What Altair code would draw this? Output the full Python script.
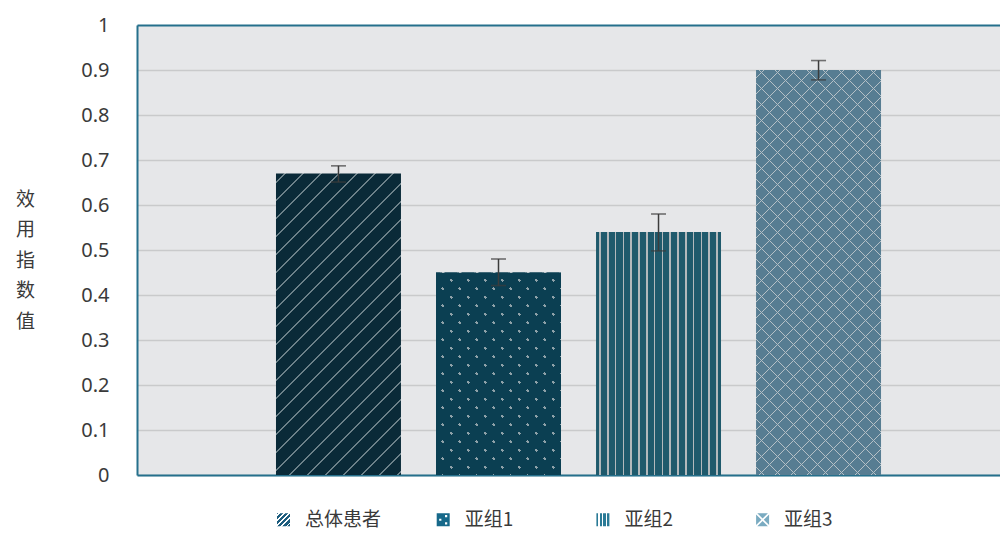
import json
import altair as alt
import pandas as pd

# ---------------- data ----------------
categories = ["总体患者", "亚组1", "亚组2", "亚组3"]
values = [0.67, 0.45, 0.54, 0.90]
err_low = [0.651, 0.421, 0.498, 0.878]
err_high = [0.687, 0.480, 0.580, 0.921]
y_ticks = [0, 0.1, 0.2, 0.3, 0.4, 0.5, 0.6, 0.7, 0.8, 0.9, 1]
y_title = ["效", "用", "指", "数", "值"]

df = pd.DataFrame({"cat": categories, "value": values, "lo": err_low, "hi": err_high})

# ---------------- layout / style ----------------
W, H = 863, 450
P_IN, P_OUT, ALIGN = 0.219, 0.806, 0.5388
step = W / (len(categories) - P_IN + 2 * P_OUT)
bar_w = step * (1 - P_IN)

TEAL = "#25708c"
GRID = "#c9cacb"
TXT = "#3a3a3a"
CJK = "Noto Sans CJK SC"


def stripes(w, h, direction, period, lw, base, line, phase=0.0):
    """Linear gradient with hard stops that draws a line texture."""
    if direction == "vert":
        total = w
        p1, p2 = (0, 0), (1, 0)
    else:
        k = (w + h) / (w * w + h * h)
        total = w + h
        if direction == "up":
            p1, p2 = (0, 0), (k * w, k * h)
        else:
            p1, p2 = (0, 1), (k * w, 1 - k * h)
    stops = [{"offset": 0, "color": base}]
    s = phase
    while s - lw / 2 < total:
        a = max(0.0, (s - lw / 2) / total)
        b = min(1.0, (s + lw / 2) / total)
        if b > 0:
            a, b = round(a, 5), round(b, 5)
            stops += [
                {"offset": a, "color": base},
                {"offset": a, "color": line},
                {"offset": b, "color": line},
                {"offset": b, "color": base},
            ]
        s += period
    stops.append({"offset": 1, "color": base})
    return {"gradient": "linear", "x1": p1[0], "y1": p1[1],
            "x2": p2[0], "y2": p2[1], "stops": stops}


hts = [v * H for v in values]
CLEAR = "rgba(0,0,0,0)"

# per-bar textures (each list = layers drawn bottom to top)
bar_fills = [
    [stripes(bar_w, hts[0], "up", 18, 1.5, "#0a2a38", "#6c8189", phase=9)],
    [stripes(bar_w, hts[1], "up", 17, 3.2, "#0b3f52", "#8ea1a8", phase=6),
     stripes(bar_w, hts[1], "down", 17, 3.2, "#0b3f52", CLEAR, phase=6)],
    [stripes(bar_w, hts[2], "vert", 7.8, 1.6, "#1f5a6c", "#b3b9bc", phase=4)],
    [stripes(bar_w, hts[3], "up", 16, 1.6, "#577d92", "#b5c0c6", phase=8),
     stripes(bar_w, hts[3], "down", 16, 1.6, CLEAR, "#b5c0c6", phase=8)],
]

# legend swatches: fill (gradient or colour) + custom symbol path
SYM = 13
SQUARE = "M-1,-1H1V1H-1Z"


def hole(cx, cy, r):
    return f"M{cx - r},{cy - r}V{cy + r}H{cx + r}V{cy - r}Z"


DOTS = SQUARE + hole(0.45, -0.55, 0.17) + hole(-0.45, 0.0, 0.17) + hole(0.45, 0.55, 0.17)
d = 0.18
XCROSS = (
    f"M{-1 + d},-1L{1 - d},-1L0,{-d}Z"
    f"M{-1 + d},1L0,{d}L{1 - d},1Z"
    f"M-1,{-1 + d}L{-d},0L-1,{1 - d}Z"
    f"M1,{-1 + d}L1,{1 - d}L{d},0Z"
)
legend_fills = [
    alt.ExprRef(expr=json.dumps(stripes(SYM, SYM, "up", 5.2, 1.7, "#1d5d7e", "#ffffff", phase=2))),
    "#17698a",
    alt.ExprRef(expr=json.dumps(stripes(SYM, SYM, "vert", 3.6, 1.1, "#2a7a96", "#ffffff", phase=2.6))),
    "#7aabc1",
]
legend_shapes = [SQUARE, DOTS, SQUARE, XCROSS]

legend_def = alt.Legend(
    title=None, orient="none", legendX=137, legendY=485,
    direction="horizontal", columns=4, gridAlign="all",
    columnPadding=51.7, symbolSize=SYM * SYM,
    symbolStrokeWidth=0, labelOffset=12, labelFont=CJK,
    labelFontSize=19, labelColor=TXT, padding=0,
)

x_enc = alt.X(
    "cat:N",
    sort=categories,
    scale=alt.Scale(domain=categories, paddingInner=P_IN, paddingOuter=P_OUT, align=ALIGN),
    axis=alt.Axis(title=None, labels=False, ticks=False, grid=False,
                  domainColor=TEAL, domainWidth=2),
)
y_enc = alt.Y(
    "value:Q",
    scale=alt.Scale(domain=[0, 1], nice=False),
    axis=alt.Axis(
        values=y_ticks, format="~g", title=y_title, titleAngle=0,
        titleAlign="center", titleBaseline="middle", titleX=-112, titleY=174,
        titleLineHeight=30.5, titleFontSize=19, titleFont=CJK,
        titleFontWeight="normal", titleColor=TXT,
        labelFont="Noto Sans", labelFontSize=20, labelColor=TXT, labelPadding=28,
        ticks=False, tickSize=0, domainColor=TEAL, domainWidth=2,
        gridColor={"condition": {"test": "datum.value === 1", "value": TEAL}, "value": GRID},
        gridWidth={"condition": {"test": "datum.value === 1", "value": 2}, "value": 1.6},
    ),
)

base = alt.Chart(df)

# hidden swatch points (covered by the bars) that carry the legend
legend_layer = (
    base.transform_calculate(mid="datum.value / 2")
    .mark_point(filled=True, size=SYM * SYM, opacity=1, strokeWidth=0)
    .encode(
        x=x_enc,
        y=alt.Y("mid:Q", scale=alt.Scale(domain=[0, 1], nice=False)),
        fill=alt.Fill("cat:N", scale=alt.Scale(domain=categories, range=legend_fills), legend=legend_def),
        shape=alt.Shape("cat:N", scale=alt.Scale(domain=categories, range=legend_shapes), legend=legend_def),
    )
)

layers = [legend_layer]
for cat, fills in zip(categories, bar_fills):
    for f in fills:
        layers.append(
            base.transform_filter(alt.datum.cat == cat)
            .mark_bar(fill=f, strokeWidth=0)
            .encode(x=x_enc, y=y_enc)
        )

err_rule = base.mark_rule(color="#3c3c3c", strokeWidth=1.5).encode(
    x=x_enc, y=alt.Y("lo:Q"), y2="hi:Q"
)
cap_lo = base.mark_tick(color="#3c3c3c", size=15, thickness=1.6).encode(
    x=x_enc, y=alt.Y("lo:Q")
)
cap_hi = base.mark_tick(color="#3c3c3c", size=15, thickness=1.6).encode(
    x=x_enc, y=alt.Y("hi:Q")
)
layers += [err_rule, cap_lo, cap_hi]

chart = (
    alt.layer(*layers)
    .properties(
        width=W,
        height=H,
        autosize=alt.AutoSizeParams(type="none"),
        padding={"left": 129, "top": 17, "right": 0, "bottom": 56},
        background="white",
    )
    .configure_view(fill="#e6e7e9", stroke=None)
)

chart.save("out.html", embed_options={"renderer": "svg", "actions": False})
